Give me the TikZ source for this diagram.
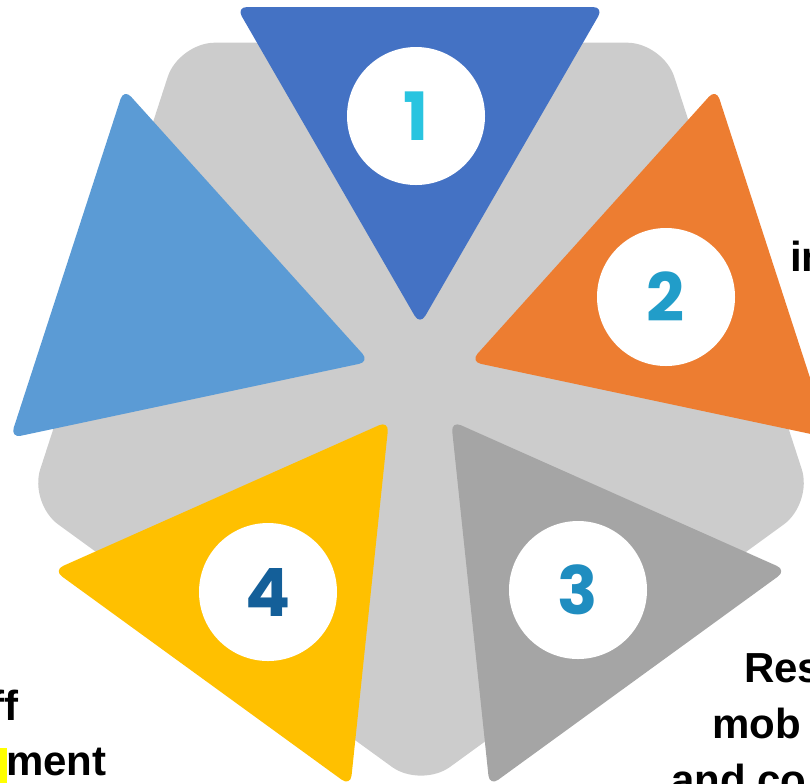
\documentclass[tikz,border=0pt]{standalone}
\usepackage{fontspec}
\setmainfont{Liberation Sans}
\newfontfamily\digfont{Poppins}
\usetikzlibrary{calc}
\definecolor{pent}{HTML}{CCCCCC}
\definecolor{cblue}{HTML}{4472C4}
\definecolor{corange}{HTML}{ED7D31}
\definecolor{cgray}{HTML}{A5A5A5}
\definecolor{cyellow}{HTML}{FFC000}
\definecolor{clblue}{HTML}{5B9BD5}
\definecolor{dOne}{HTML}{29C4E0}
\definecolor{dTwo}{HTML}{219DC9}
\definecolor{dThree}{HTML}{1F8DC0}
\definecolor{dFour}{HTML}{145F99}
\definecolor{hilite}{HTML}{FFFF00}
\begin{document}
\begin{tikzpicture}[x=0.75pt,y=-0.75pt,
  tri/.style={rounded corners=8pt},
  numcircle/.style={circle,fill=white,minimum size=103.5pt,inner sep=0pt,
    font=\digfont\bfseries\fontsize{50}{50}\selectfont},
  lbl/.style={font=\bfseries\fontsize{31.5}{42}\selectfont,inner sep=0pt,text=black}]
\clip (0,0) rectangle (810,783);
\coordinate (P) at (421,376);
\fill[pent,rounded corners=27pt] ($(P)+(90:412)$) -- ($(P)+(162:412)$) -- ($(P)+(234:412)$)
  -- ($(P)+(306:412)$) -- ($(P)+(18:412)$) -- cycle;
\coordinate (C) at (420,378);
\foreach \k/\col in {0/cblue,1/corange,2/cgray,3/cyellow,4/clblue}{
  \coordinate (G) at ($(C)+({-90+72*\k}:265)$);
  \fill[\col,tri] ($(G)+({90+72*\k}:212)$) -- ($(G)+({-30+72*\k}:212)$)
    -- ($(G)+({-150+72*\k}:212)$) -- cycle;
}
\node[numcircle,text=dOne] (n1) at (416,116) {1};
\node[numcircle,text=dTwo] (n2) at (666,297) {2};
\node[numcircle,text=dThree] (n3) at (578,590) {3};
\node[numcircle,text=dFour] (n4) at (268,592) {4};
\node[lbl,anchor=base west] (t2) at (790,271) {in};
\node[lbl,anchor=base west] (t3a) at (744,682) {Res};
\node[lbl,anchor=base west] (t3b) at (712,738) {mob};
\node[lbl,anchor=base west] (t3c) at (671,794) {and co};
\node[lbl,anchor=base east] (t4a) at (19,720) {ff};
\fill[hilite] (0,748) rectangle (7,783);
\node[lbl,anchor=base west] (t4b) at (6,775) {ment};
\end{tikzpicture}
\end{document}
